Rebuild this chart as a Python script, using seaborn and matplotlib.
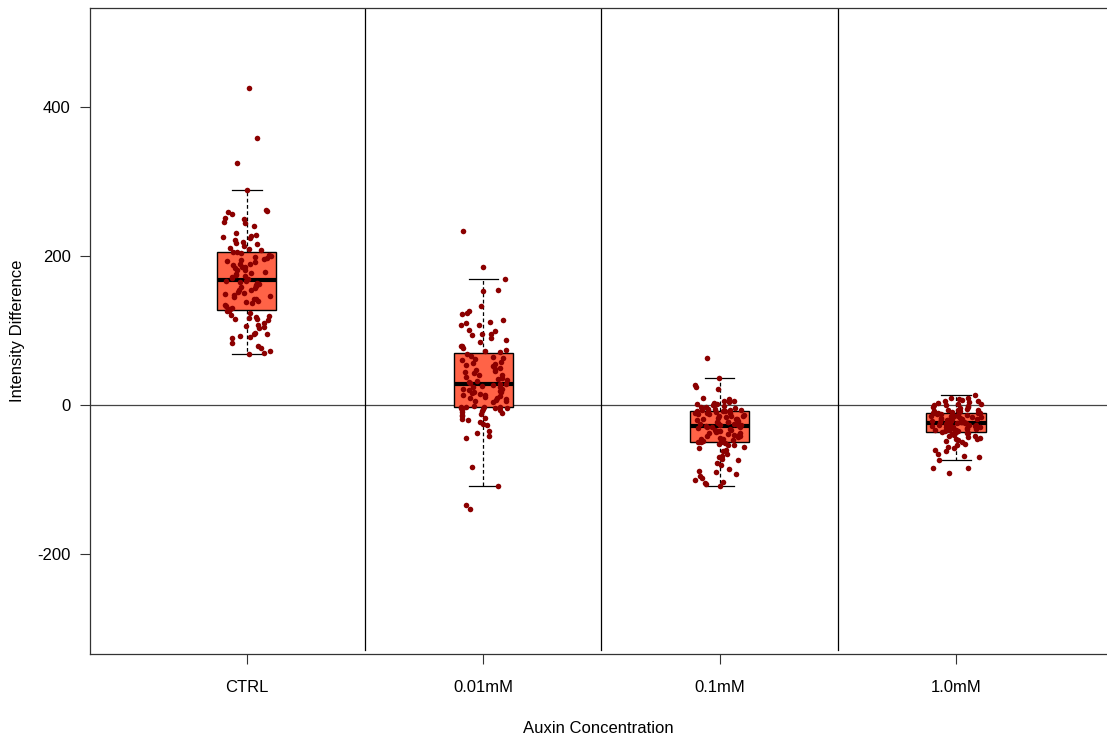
import numpy as np
import pandas as pd
import matplotlib
matplotlib.use("Agg")
import matplotlib.pyplot as plt
import seaborn as sns

categories = ["CTRL", "0.01mM", "0.1mM", "1.0mM"]

ctrl = [425, 358, 325, 289, 262, 261, 259, 257, 251, 250, 246, 244, 241, 231, 229, 227,
        226, 224, 221, 219, 218, 216, 214, 211, 210, 208, 206, 205,
        204, 202, 200, 199, 197, 196, 195, 193, 192, 190, 189, 188, 186, 185, 184, 182,
        181, 179, 178, 176, 175, 173, 172, 170, 169, 167, 166, 165, 164, 163, 161, 160,
        158, 157, 155, 154, 152, 151, 149, 148, 146, 145, 143, 142, 140, 138, 137, 135,
        133, 131,
        129, 127, 126, 124, 121, 120, 118, 117, 116, 115, 114, 110, 108, 106, 105, 104,
        97, 96, 95, 93, 91, 90, 83, 80, 77, 72, 70, 68]

conc_001 = [234, 185, 169, 154, 153, 133, 126, 123, 122, 114, 111, 110, 108, 107, 101, 99,
            96, 95, 94, 90, 88, 85, 80, 79, 77, 74, 72, 71,
            69, 66, 65, 63, 62, 60, 58, 57, 55, 54, 52, 50, 49, 47, 46, 44, 43, 41, 40, 38,
            37, 35, 34, 33, 31, 30, 29, 28,
            27, 26, 25, 24, 22, 21, 20, 19, 18, 17, 16, 15, 14, 13, 12, 11, 10, 9, 8, 7, 6,
            5, 4, -2.5, -3, -3.5, -4,
            -1, -2, -3, -4, -5, -6, -7, -8, -9, -10, -12, -13, -15, -17, -18, -20, -23, -25,
            -27, -35, -37, -42, -44, -83, -108, -134, -140]

conc_01 = [63, 37, 27, 25, 22, 10, 8, 6, 5, 4, 3, 2, 1, 0, -1, -2, -3, -4, -5, -5, -6, -6,
           -7, -7, -8, -8, -8,
           -9, -10, -10, -11, -12, -12, -13, -14, -15, -15, -16, -17, -18, -18, -19, -20,
           -21, -22, -22, -23, -24, -25, -25, -26, -27, -27, -28,
           -29, -30, -30, -31, -32, -33, -34, -35, -35, -36, -37, -38, -39, -40, -40, -41,
           -42, -43, -44, -45, -46, -47, -48, -49, -49, -50,
           -51, -52, -53, -54, -56, -58, -60, -62, -65, -68, -72, -74, -77, -80, -86, -88,
           -90, -95, -98, -101, -104, -106, -108, -103, -92, -70]

conc_1 = [13, 10, 9, 8, 7, 6, 5, 4, 3, 2, 1, 0, 0, -1, -2, -3, -4, -5, -6, -6, -7, -8, -8,
          -9, -9, -10, -10,
          -11, -11, -12, -12, -13, -13, -14, -14, -15, -15, -16, -16, -17, -17, -18, -18,
          -19, -19, -20, -20, -21, -21, -22, -22, -23, -23, -24,
          -25, -25, -26, -26, -27, -27, -28, -28, -29, -29, -30, -30, -31, -31, -32, -32,
          -33, -33, -34, -34, -35, -35, -36, -36, -24, -24,
          -37, -38, -39, -40, -41, -42, -43, -44, -45, -47, -48, -50, -52, -54, -56, -58,
          -60, -62, -65, -68, -70, -74, -85, -85, -91, -46]

y_ticks = [-200, 0, 200, 400]

groups = [ctrl, conc_001, conc_01, conc_1]
df = pd.DataFrame({
    "cat": np.concatenate([[c] * len(g) for c, g in zip(categories, groups)]),
    "val": np.concatenate([np.array(g, dtype=float) for g in groups]),
})

plt.rcParams["font.family"] = ["Liberation Sans", "DejaVu Sans"]
plt.rcParams["axes.unicode_minus"] = False

fig = plt.figure(figsize=(11.07, 7.38), dpi=100)
ax = fig.add_axes([90 / 1107, 84 / 738, 1017 / 1107, 646 / 738])

sns.boxplot(data=df, x="cat", y="val", order=categories, width=0.25, whis=1.5,
            showfliers=False, color="#FF6347", saturation=1, linecolor="black",
            linewidth=1.0,
            boxprops={"edgecolor": "black", "facecolor": "#FF6347"},
            whiskerprops={"linestyle": (0, (3, 2)), "color": "black", "linewidth": 0.9},
            capprops={"color": "black", "linewidth": 0.9},
            medianprops={"color": "black", "linewidth": 3},
            ax=ax)

np.random.seed(3)
sns.stripplot(data=df, x="cat", y="val", order=categories, jitter=0.105, size=4.0,
              color="#8B0000", linewidth=0, ax=ax, zorder=5)

ax.axhline(0, color="#444444", linewidth=0.9, zorder=1)
for xv in [0.5, 1.5, 2.5]:
    ax.axvline(xv, ymin=0.006, color="black", linewidth=0.9, zorder=1)

ax.set_xlim(-0.664, 3.639)
ax.set_ylim(-334, 533)
ax.set_yticks(y_ticks)
ax.set_yticklabels([str(v) for v in y_ticks])
ax.set_xticks(range(len(categories)))
ax.set_xticklabels(categories)

ax.tick_params(axis="y", length=7, width=0.8, pad=7, labelsize=12, color="#333333")
ax.tick_params(axis="x", length=7, width=0.8, pad=12, labelsize=12, color="#333333")

for side in ["left", "top", "bottom"]:
    ax.spines[side].set_color("#333333")
    ax.spines[side].set_linewidth(0.9)
ax.spines["right"].set_visible(False)

ax.set_xlabel("Auxin Concentration", fontsize=12)
ax.set_ylabel("Intensity Difference", fontsize=12)
ax.xaxis.set_label_coords(0.5, -0.103)
ax.yaxis.set_label_coords(-0.064, 0.5)

fig.savefig("out.png", dpi=100)
